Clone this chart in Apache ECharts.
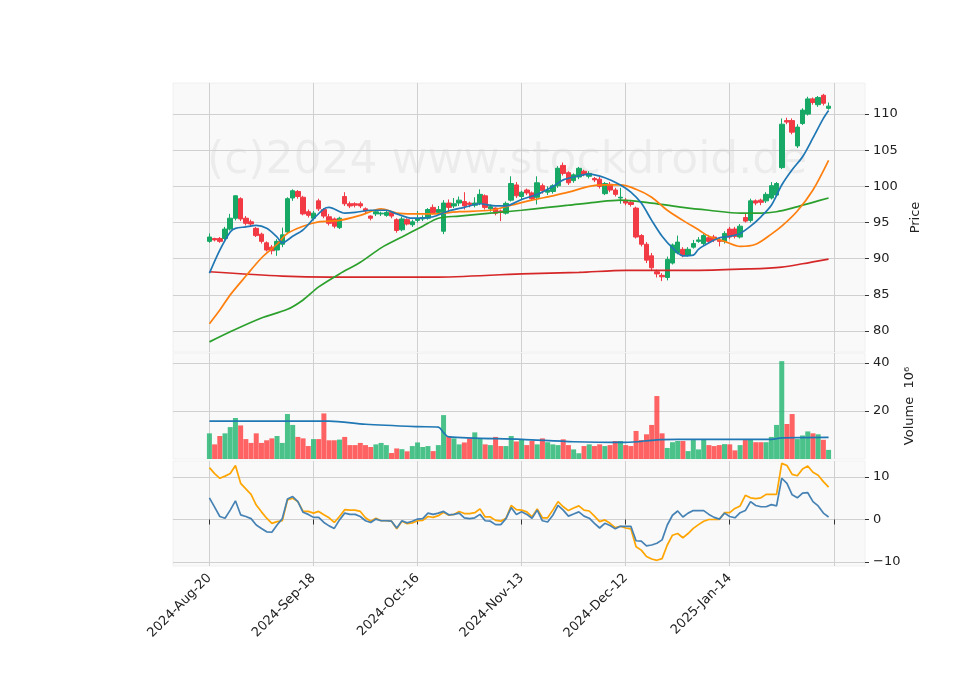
<!DOCTYPE html>
<html>
<head>
<meta charset="utf-8">
<script src="https://cdn.jsdelivr.net/npm/echarts@6/dist/echarts.min.js"></script>
<style>html,body{margin:0;padding:0;background:#fff}</style>
</head>
<body>
<div id="main" style="width:960px;height:690px"></div>
<script>
// candle data, one entry per trading day from 2024-08-20
var opens = [92.4,92.8,92.8,92.8,94.1,95.6,98.3,95.6,95.1,94.2,93.4,92.2,91.6,91.2,92.0,93.7,98.4,99.3,98.5,96.5,
  95.6,98.0,96.8,95.8,95.5,94.3,98.6,97.6,97.6,97.6,96.9,95.9,96.2,96.2,96.0,96.4,95.4,94.0,95.4,94.7,
  95.3,95.5,95.6,97.1,96.4,93.8,97.7,97.3,97.7,97.9,97.7,97.4,97.7,98.7,96.9,97.0,96.6,96.3,98.1,100.2,
  98.6,99.5,99.1,98.5,100.1,99.2,99.3,100.1,102.9,101.9,100.8,101.3,102.1,101.4,101.1,101.0,99.0,100.3,99.5,98.4,
  98.1,97.8,97.0,93.2,92.0,90.4,88.2,87.7,87.4,89.4,90.8,91.3,90.5,91.6,92.4,92.1,92.9,93.0,92.6,92.4,
  94.1,94.1,93.0,95.7,95.3,98.0,98.1,98.0,98.4,98.8,102.6,109.1,109.1,105.6,108.7,110.0,112.1,111.3,112.6,110.8];
var closes = [93.0,92.6,92.4,94.1,95.6,98.7,95.5,94.9,94.8,93.2,92.4,91.2,91.1,92.4,93.3,98.3,99.4,98.6,96.2,96.0,
  96.3,96.9,95.9,94.9,94.5,95.6,97.6,97.3,97.4,97.3,96.6,95.6,96.5,96.3,96.4,95.9,93.9,95.5,94.8,95.1,
  95.5,95.7,96.8,96.4,96.8,97.7,97.1,97.6,98.1,97.3,97.5,97.7,98.9,97.1,97.2,96.3,96.4,97.65,100.4,98.7,
  99.2,99.1,98.3,100.5,99.4,99.5,100.1,102.5,101.8,100.5,101.6,102.5,101.7,101.8,100.9,100.0,100.4,99.5,98.9,98.5,
  97.7,97.5,93.0,92.0,89.8,88.75,87.9,87.5,89.9,91.9,92.3,90.5,91.3,92.1,92.6,93.2,92.4,92.6,92.4,93.5,
  93.0,93.1,94.5,95.2,98.0,97.7,97.8,98.9,100.1,100.4,108.6,108.9,107.5,108.2,110.55,112.1,111.6,112.3,111.5,111.1];
var highs = [93.5,92.9,93.0,94.4,96.2,98.8,98.5,95.9,95.4,94.4,93.6,92.4,91.9,92.7,94.3,98.5,99.6,99.5,98.7,96.8,
  96.6,98.3,97.0,96.2,95.7,95.8,99.2,97.9,97.8,97.9,97.1,96.0,96.8,96.5,96.6,96.6,95.6,95.8,95.6,95.4,
  96.6,96.0,97.0,97.5,97.3,98.1,98.2,98.4,98.6,99.2,97.9,98.5,99.6,98.9,97.5,97.1,96.8,97.9,101.4,100.6,
  99.4,99.7,99.3,101.4,100.4,100.0,100.3,102.8,103.3,102.1,101.8,102.7,102.3,102.1,101.3,101.3,100.6,100.6,99.8,99.8,
  98.4,98.1,97.2,93.4,92.3,90.8,88.5,88.0,90.3,92.1,93.2,91.6,91.6,92.6,93.0,93.4,93.3,93.3,92.9,93.8,
  94.4,94.4,94.8,96.2,98.3,98.2,98.3,99.2,100.6,100.6,109.4,109.5,109.4,108.6,110.8,112.4,112.3,112.5,112.8,111.6];
var lows = [92.2,92.4,92.2,92.6,93.9,95.3,95.2,94.6,94.5,93.0,92.1,91.0,90.6,90.4,91.6,93.4,98.0,98.3,96.0,95.7,
  95.3,96.6,95.6,94.6,94.2,94.1,97.3,97.0,97.1,97.0,96.3,95.3,95.9,95.9,95.8,95.6,93.6,93.8,94.6,94.4,
  95.0,95.2,95.4,96.1,96.1,93.4,96.4,97.0,97.3,96.8,97.1,97.1,97.4,96.8,96.5,96.0,95.2,96.1,97.9,98.4,
  98.2,98.8,98.0,97.5,99.0,98.8,99.0,99.8,101.5,100.2,100.5,101.0,101.4,101.1,100.6,99.7,98.8,99.2,98.6,97.6,
  97.4,97.2,92.8,91.7,89.4,88.4,87.4,86.9,87.0,89.2,90.6,90.2,90.3,91.4,92.2,91.9,92.1,92.3,91.7,92.1,
  92.7,92.8,92.8,95.0,95.0,97.4,97.4,97.7,98.2,98.6,102.4,108.6,107.2,105.3,108.5,109.8,111.3,111.0,111.2,110.6];
var volumes = [10.7,6.1,9.6,10.7,13.3,17.1,14.0,8.3,6.7,10.7,6.7,7.8,8.6,9.6,6.7,18.75,14.2,9.2,8.6,5.4,
  8.3,8.3,19.0,7.8,7.8,8.1,9.2,5.8,5.8,6.7,5.8,5.0,6.1,6.7,5.8,2.5,4.4,4.1,3.2,5.4,
  6.9,5.0,5.4,3.3,5.8,18.3,9.6,8.6,6.1,6.9,8.6,11.1,8.6,6.1,5.8,9.2,5.4,5.4,9.6,7.3,
  8.2,5.8,7.5,6.1,8.6,7.0,6.1,5.8,8.2,5.8,4.0,2.4,5.4,6.1,5.4,6.1,5.4,5.8,7.5,7.5,
  5.8,5.4,11.7,7.9,10.3,14.2,26.25,10.7,4.6,7.0,7.5,7.5,3.3,7.9,4.0,8.3,5.8,5.4,5.8,6.2,
  6.1,3.6,5.8,7.9,8.3,7.0,7.0,7.0,9.2,14.2,40.8,14.6,18.75,8.3,9.8,11.5,10.7,10.3,8.0,3.8];
var oscFast = [5.1,2.9,0.7,0.3,2.2,4.4,1.1,0.7,0.2,-1.3,-2.1,-2.9,-3.0,-1.3,0.2,4.8,5.4,4.2,1.7,1.2,
  0.5,0.5,-0.7,-1.5,-2.1,-0.1,1.5,1.2,1.2,0.7,-0.3,-0.7,0.1,-0.3,-0.3,-0.4,-2.0,-0.3,-0.8,-0.4,
  0.1,0.2,1.5,1.2,1.5,1.9,1.1,1.2,1.5,0.4,0.2,0.4,1.2,-0.3,-0.4,-1.2,-1.2,0.2,2.8,1.2,
  1.8,1.2,0.3,2.2,-0.3,-0.6,1.0,3.3,2.2,0.8,1.3,1.8,0.8,0.3,-0.9,-2.0,-0.9,-1.4,-2.2,-1.6,
  -1.6,-1.6,-5.0,-5.1,-6.2,-6.0,-5.6,-4.8,-1.3,1.0,2.0,0.6,1.5,2.1,2.1,2.1,1.2,0.5,0.1,1.5,
  0.7,0.4,1.6,2.1,4.2,3.3,3.0,3.0,3.5,3.2,9.7,8.5,5.8,5.1,6.2,6.3,4.2,3.2,1.5,0.6];
var oscSlow = [12.2,10.8,9.7,10.2,10.8,12.7,8.5,7.2,5.9,3.4,1.8,0.3,-0.9,-0.5,-0.3,4.6,5.0,4.2,1.9,1.9,
  1.5,1.9,1.1,0.4,-0.7,0.7,2.3,2.2,2.2,1.9,0.4,-0.4,0.3,-0.3,-0.3,-0.4,-2.2,-0.4,-1.0,-0.8,
  -0.3,-0.2,0.7,0.5,0.9,1.7,1.0,1.2,1.9,1.4,1.4,1.6,2.5,0.6,0.6,-0.2,-0.4,0.3,3.3,2.3,
  2.2,1.8,0.6,2.5,0.4,0.4,2.2,4.2,3.0,2.1,2.7,3.2,2.2,2.0,0.8,-0.5,-0.1,-0.9,-1.9,-1.6,
  -2.0,-2.2,-6.4,-7.2,-8.7,-9.3,-9.6,-9.2,-6.0,-3.7,-3.3,-4.3,-3.3,-2.1,-1.2,-0.4,0.0,0.0,0.0,1.6,
  1.6,2.6,3.2,5.7,5.1,4.9,5.1,5.9,5.9,5.9,13.2,12.7,10.6,10.3,11.9,12.6,11.1,10.4,8.9,7.6];
// moving averages as [day index, value]
var maBlue = [[0,88.0],[2,91.2],[4,93.7],[5,94.2],[7,94.4],[9,94.6],[11,94.2],[13,93.0],[14,92.2],[16,93.1],[17.5,94.0],
  [20,95.5],[22,96.9],[23,97.1],[25.5,96.3],[28,96.4],[31,96.7],[34,96.7],[36,96.2],[39,95.6],[41,95.6],[42.5,95.8],
  [46,96.6],[49,97.1],[52,97.6],[55,97.3],[57,97.3],[60,98.2],[63,98.9],[65.6,100.0],[67.5,100.9],[70.4,101.3],
  [73,101.7],[76,101.2],[79,100.2],[81,99.2],[83,97.7],[85,95.3],[87,93.1],[88.7,91.5],[90.6,90.4],[92.5,90.5],
  [94.4,91.3],[96,92.2],[98,92.9],[100,93.1],[102,93.5],[104,94.5],[106,95.8],[108,97.4],[110,100.2],[112,102.3],
  [113.7,104.1],[115.6,106.7],[117.5,109.4],[119,110.5]];
var maOrange = [[0,81.0],[2,82.9],[4,85.0],[7,87.6],[10,90.1],[13,92.0],[15,93.5],[17.5,94.5],[21,95.1],[25,95.3],
  [29,96.0],[33,96.9],[36,96.3],[39,96.2],[42.5,96.2],[48,96.5],[54,96.7],[58,97.4],[62,98.1],[65.6,98.7],[69.4,99.2],
  [73,100.0],[76,100.2],[79,100.2],[82,99.6],[85,98.5],[87.7,96.7],[90.6,95.3],[93.5,94.0],[96,93.1],[99,92.4],
  [102,91.7],[105,92.0],[108,93.4],[110,94.5],[112.7,96.6],[115.6,99.5],[119,103.6]];
var maGreen = [[0,78.5],[4,79.9],[10,81.8],[15,83.0],[17.5,84.3],[21,86.1],[25,87.9],[29,89.5],[33,91.5],[37,93.0],
  [41,94.5],[44,95.6],[48,95.9],[54,96.3],[60,96.7],[64.6,97.1],[69,97.4],[74,97.8],[79,98.1],[85,97.7],[90.6,97.1],
  [96,96.7],[102,96.3],[106,96.3],[109,96.5],[112,97.0],[115.6,97.8],[119,98.4]];
var maRed = [[0,88.2],[13.6,87.6],[23,87.45],[42.5,87.45],[60,87.9],[71,88.1],[80,88.4],[94.4,88.4],[104,88.6],
  [110,88.85],[114,89.3],[119,89.95]];
var volMa = [[0,15.8],[10,15.8],[23,15.8],[30,14.5],[40,13.5],[44,13.3],[45,11.0],[46,9.2],[60,8.2],[70,7.2],
  [80,6.9],[86,8.0],[90,8.2],[108,8.2],[110,8.8],[119,9.0]];
var tickLabels = ['2024-Aug-20','2024-Sep-18','2024-Oct-16','2024-Nov-13','2024-Dec-12','2025-Jan-14',''];

var pad = 7, nCat = 134;
var cats = [];
for (var k = 0; k < nCat; k++) cats.push(String(k));
function isTick(k) { return k >= pad && (k - pad) % 20 === 0 && (k - pad) / 20 < tickLabels.length; }
function padded(arr) { return new Array(pad).fill('-').concat(arr); }
function shift(pts) { return pts.map(function (p) { return [p[0] + pad, p[1]]; }); }

var UP = '#17a865', DOWN = '#f23a45';
var candles = opens.map(function (o, i) { return [o, closes[i], lows[i], highs[i]]; });
var volBars = volumes.map(function (v, i) {
  return { value: v, itemStyle: { color: closes[i] >= opens[i] ? 'rgba(30,180,110,0.8)' : 'rgba(255,60,60,0.8)' } };
});

var myChart = echarts.init(document.getElementById('main'));
var gridLine = { show: true, interval: function (k) { return isTick(k); }, lineStyle: { color: '#d0d0d0' } };
function xAx(idx, bottom) {
  return {
    type: 'category', gridIndex: idx, data: cats, boundaryGap: false,
    axisLine: { show: false },
    axisTick: { show: bottom, interval: function (k) { return isTick(k); }, length: 5, lineStyle: { color: '#333' } },
    axisLabel: {
      show: bottom, interval: function (k) { return isTick(k); }, rotate: 45, color: '#222', fontSize: 13, margin: 10,
      fontFamily: 'DejaVu Sans',
      formatter: function (v) { var k = +v; return isTick(k) ? tickLabels[(k - pad) / 20] : ''; }
    },
    splitLine: gridLine
  };
}
function yAx(idx, min, max, vals, name, gap) {
  return {
    type: 'value', gridIndex: idx, position: 'right', min: min, max: max, scale: true,
    name: name, nameLocation: 'middle', nameGap: gap, nameRotate: 90,
    nameTextStyle: { color: '#222', fontSize: 13, fontFamily: 'DejaVu Sans' },
    axisLine: { show: false },
    axisTick: { show: true, customValues: vals, length: 4, lineStyle: { color: '#333' } },
    axisLabel: { customValues: vals, color: '#222', fontSize: 13, fontFamily: 'DejaVu Sans',
      formatter: function (v) { return v < 0 ? '\u2212' + (-v) : String(v); } },
    splitLine: { show: true, lineStyle: { color: '#d0d0d0' } }
  };
}
function ln(pts, color, xi, yi, w) {
  return { type: 'line', xAxisIndex: xi, yAxisIndex: yi, data: pts, smooth: 0.3, showSymbol: false,
    lineStyle: { color: color, width: w || 1.7 }, clip: false, z: 3 };
}

myChart.setOption({
  animation: false,
  backgroundColor: '#fff',
  grid: [
    { left: 173, right: 95, top: 83, height: 269, show: true, backgroundColor: '#f9f9f9', borderColor: '#f0f0f0' },
    { left: 173, right: 95, top: 353, height: 106, show: true, backgroundColor: '#f9f9f9', borderColor: '#f0f0f0' },
    { left: 173, right: 95, top: 461, height: 105, show: true, backgroundColor: '#f9f9f9', borderColor: '#f0f0f0' }
  ],
  graphic: [{
    type: 'text', left: 207, top: 140, z: 0, silent: true,
    style: { text: '(c)2024 www.stockdroid.de', fontSize: 44, fontFamily: 'DejaVu Sans', fill: 'rgba(0,0,0,0.05)' }
  }],
  xAxis: [xAx(0, false), xAx(1, false), xAx(2, true)],
  yAxis: [
    yAx(0, 77.1, 114.3, [80, 85, 90, 95, 100, 105, 110], 'Price', 38),
    yAx(1, 0, 44.2, [20, 40], 'Volume  10\u2076', 38),
    yAx(2, -10.94, 13.76, [-10, 0, 10], '', 30)
  ],
  series: [
    { type: 'candlestick', xAxisIndex: 0, yAxisIndex: 0, data: padded(candles), barWidth: 5, z: 2,
      itemStyle: { color: UP, color0: DOWN, borderColor: UP, borderColor0: DOWN, borderWidth: 1 } },
    ln(shift(maRed), '#d62728', 0, 0),
    ln(shift(maGreen), '#2ca02c', 0, 0),
    ln(shift(maOrange), '#ff7f0e', 0, 0),
    ln(shift(maBlue), '#1f77b4', 0, 0),
    { type: 'bar', xAxisIndex: 1, yAxisIndex: 1, data: padded(volBars), barWidth: 5, z: 2 },
    ln(shift(volMa), '#1f77b4', 1, 1),
    { type: 'line', xAxisIndex: 2, yAxisIndex: 2, data: padded(oscSlow), showSymbol: false,
      lineStyle: { color: '#ffa500', width: 1.7 } },
    { type: 'line', xAxisIndex: 2, yAxisIndex: 2, data: padded(oscFast), showSymbol: false,
      lineStyle: { color: '#4682b4', width: 1.7 } }
  ]
});
</script>
</body>
</html>
